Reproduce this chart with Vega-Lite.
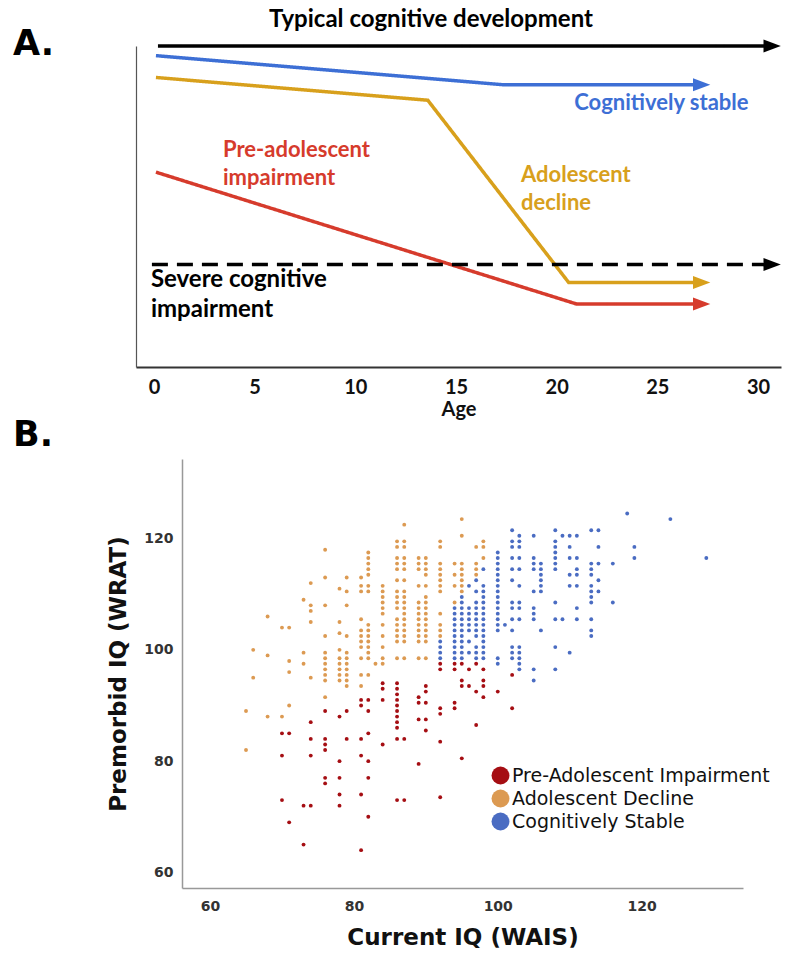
{
"$schema": "https://vega.github.io/schema/vega-lite/v6.json",
"background": "white",
"padding": {"left": 12, "top": 8, "right": 2, "bottom": 0},
"spacing": 6,
"config": {"view": {"stroke": null}},
"resolve": {"scale": {"color": "independent", "strokeDash": "independent", "x": "independent", "y": "independent"}, "legend": {"color": "independent"}},
"vconcat": [
{
"width": 645, "height": 321,
"data": {"values": [
{"series": "Typical", "age": 0.2, "level": 100},
{"series": "Typical", "age": 30.7, "level": 100},
{"series": "Stable", "age": 0.1, "level": 97.0},
{"series": "Stable", "age": 17.4, "level": 87.9},
{"series": "Stable", "age": 27.2, "level": 87.9},
{"series": "Decline", "age": 0.1, "level": 90.2},
{"series": "Decline", "age": 13.6, "level": 83.1},
{"series": "Decline", "age": 20.6, "level": 26.3},
{"series": "Decline", "age": 27.2, "level": 26.3},
{"series": "PreAdolescent", "age": 0.1, "level": 60.7},
{"series": "PreAdolescent", "age": 21.0, "level": 19.6},
{"series": "PreAdolescent", "age": 27.2, "level": 19.6},
{"series": "Severe", "age": -0.1, "level": 31.9},
{"series": "Severe", "age": 30.7, "level": 31.9}
]},
"layer": [
{"mark": {"type": "line", "strokeWidth": 3.5, "strokeCap": "butt"},
 "encoding": {
  "x": {"field": "age", "type": "quantitative", "scale": {"domain": [-0.89, 31.14], "nice": false, "zero": false},
        "axis": {"title": "Age", "titleFont": "Lato", "titleFontSize": 20, "titleFontWeight": "bold", "titleColor": "#111", "titlePadding": 2,
                 "labelFont": "Lato", "labelFontSize": 20, "labelFontWeight": "bold", "labelColor": "#111", "labelPadding": 10,
                 "ticks": false, "grid": false, "domainColor": "#333", "domainWidth": 2, "values": [0,5,10,15,20,25,30], "labelFlush": false, "labelOverlap": false}},
  "y": {"field": "level", "type": "quantitative", "scale": {"domain": [0, 100], "nice": false, "zero": false},
        "axis": {"title": null, "labels": false, "ticks": false, "grid": false, "domainColor": "#555", "domainWidth": 1.2}},
  "color": {"field": "series", "type": "nominal", "legend": null,
            "scale": {"domain": ["Typical", "Stable", "Decline", "PreAdolescent", "Severe"], "range": ["#000000", "#3d6fd5", "#d8a01c", "#d63b2c", "#000000"]}},
  "strokeDash": {"field": "series", "type": "nominal", "legend": null,
            "scale": {"domain": ["Typical", "Stable", "Decline", "PreAdolescent", "Severe"], "range": [[1,0],[1,0],[1,0],[1,0],[16,9]]}}
 }},
{"transform": [{"joinaggregate": [{"op": "max", "field": "age", "as": "tip"}], "groupby": ["series"]}, {"filter": "datum.age == datum.tip"}],
 "mark": {"type": "point", "shape": "M -1 -0.75 L 1 0 L -1 0.75 Z", "filled": true, "opacity": 1, "size": 300, "strokeWidth": 0},
 "encoding": {
  "x": {"field": "age", "type": "quantitative"},
  "y": {"field": "level", "type": "quantitative"},
  "color": {"field": "series", "type": "nominal", "legend": null}
 }},
{"data": {"values": [{}]},
 "mark": {"type": "text", "font": "Lato", "fontWeight": "bold", "fontSize": 24, "align": "center", "baseline": "alphabetic", "color": "#000000"},
 "encoding": {"x": {"datum": 13.76}, "y": {"datum": 105.9}, "text": {"value": "Typical cognitive development"}}},
{"data": {"values": [{}]},
 "mark": {"type": "text", "font": "Lato", "fontWeight": "bold", "fontSize": 22, "align": "center", "baseline": "alphabetic", "color": "#3d6fd5"},
 "encoding": {"x": {"datum": 25.2}, "y": {"datum": 80.0}, "text": {"value": "Cognitively stable"}}},
{"data": {"values": [{}]},
 "mark": {"type": "text", "font": "Lato", "fontWeight": "bold", "fontSize": 22, "align": "left", "baseline": "alphabetic", "lineHeight": 28, "color": "#d63b2c"},
 "encoding": {"x": {"datum": 3.43}, "y": {"datum": 65.4}, "text": {"value": ["Pre-adolescent", "impairment"]}}},
{"data": {"values": [{}]},
 "mark": {"type": "text", "font": "Lato", "fontWeight": "bold", "fontSize": 22, "align": "left", "baseline": "alphabetic", "lineHeight": 28, "color": "#d8a01c"},
 "encoding": {"x": {"datum": 18.23}, "y": {"datum": 57.5}, "text": {"value": ["Adolescent", "decline"]}}},
{"data": {"values": [{}]},
 "mark": {"type": "text", "font": "Lato", "fontWeight": "bold", "fontSize": 24, "align": "left", "baseline": "alphabetic", "lineHeight": 30, "color": "#000000"},
 "encoding": {"x": {"datum": -0.15}, "y": {"datum": 24.9}, "text": {"value": ["Severe cognitive", "impairment"]}}},
{"data": {"values": [{}]},
 "mark": {"type": "text", "font": "DejaVu Sans", "fontWeight": "bold", "fontSize": 35, "align": "left", "baseline": "alphabetic", "color": "#000000"},
 "encoding": {"x": {"datum": -7.0}, "y": {"datum": 97.2}, "text": {"value": "A."}}},
{"data": {"values": [{}]},
 "mark": {"type": "text", "font": "DejaVu Sans", "fontWeight": "bold", "fontSize": 35, "align": "left", "baseline": "alphabetic", "color": "#000000"},
 "encoding": {"x": {"datum": -7.0}, "y": {"datum": -24.6}, "text": {"value": "B."}}}
]
},
{
"width": 607, "height": 429,
"encoding": {
  "x": {"field": "wais", "type": "quantitative", "scale": {"domain": [56.1, 134.1], "range": [46, 607], "nice": false, "zero": false},
        "axis": {"title": "Current IQ (WAIS)", "titleFont": "DejaVu Sans", "titleFontSize": 23, "titleFontWeight": "bold", "titleColor": "#111", "titlePadding": 13,
                 "labelFont": "DejaVu Sans", "labelFontSize": 14, "labelFontWeight": "bold", "labelColor": "#333", "labelPadding": 11,
                 "ticks": false, "grid": false, "domainColor": "#999999", "domainWidth": 1.5, "values": [60, 80, 100, 120], "labelFlush": false}},
  "y": {"field": "wrat", "type": "quantitative", "scale": {"domain": [57.2, 134.3], "nice": false, "zero": false},
        "axis": {"offset": -46, "title": "Premorbid IQ (WRAT)", "titleFont": "DejaVu Sans", "titleFontSize": 23, "titleFontWeight": "bold", "titleColor": "#111", "titlePadding": 13,
                 "labelFont": "DejaVu Sans", "labelFontSize": 14, "labelFontWeight": "bold", "labelColor": "#333", "labelPadding": 9,
                 "ticks": false, "grid": false, "domainColor": "#999999", "domainWidth": 1.5, "values": [60, 80, 100, 120], "labelFlush": false}}
},
"resolve": {"scale": {"color": "shared"}},
"layer": [
{"data": {"values": [
{"wais":65,"wrat":89},{"wais":65,"wrat":82},
{"wais":66,"wrat":100},{"wais":66,"wrat":95},
{"wais":68,"wrat":106},{"wais":68,"wrat":99},{"wais":68,"wrat":88},
{"wais":70,"wrat":104},{"wais":70,"wrat":88},
{"wais":71,"wrat":104},{"wais":71,"wrat":98},{"wais":71,"wrat":96},{"wais":71,"wrat":90},
{"wais":73,"wrat":109},{"wais":73,"wrat":99.5},{"wais":73,"wrat":97.5},
{"wais":74,"wrat":112},{"wais":74,"wrat":108},{"wais":74,"wrat":107},{"wais":74,"wrat":105},{"wais":74,"wrat":95},
{"wais":76,"wrat":118},{"wais":76,"wrat":113},{"wais":76,"wrat":108},{"wais":76,"wrat":102.5},{"wais":76,"wrat":99.5},{"wais":76,"wrat":98.5},{"wais":76,"wrat":97.5},{"wais":76,"wrat":96.5},{"wais":76,"wrat":95.5},{"wais":76,"wrat":94.5},{"wais":76,"wrat":91.5},
{"wais":78,"wrat":111},{"wais":78,"wrat":105},{"wais":78,"wrat":103},{"wais":78,"wrat":100},{"wais":78,"wrat":98.5},{"wais":78,"wrat":97.5},{"wais":78,"wrat":96.5},{"wais":78,"wrat":95.5},{"wais":78,"wrat":94.5},
{"wais":79,"wrat":113},{"wais":79,"wrat":110.5},{"wais":79,"wrat":108},{"wais":79,"wrat":102.5},{"wais":79,"wrat":99.5},{"wais":79,"wrat":98.5},{"wais":79,"wrat":97.5},{"wais":79,"wrat":96.5},{"wais":79,"wrat":95.5},{"wais":79,"wrat":94.5},{"wais":79,"wrat":93.5},
{"wais":81,"wrat":113},{"wais":81,"wrat":111.5},{"wais":81,"wrat":110.5},{"wais":81,"wrat":105.5},{"wais":81,"wrat":103.5},{"wais":81,"wrat":102.5},{"wais":81,"wrat":101.5},{"wais":81,"wrat":100.5},{"wais":81,"wrat":98.5},{"wais":81,"wrat":95.5},{"wais":81,"wrat":93.5},
{"wais":82,"wrat":117.5},{"wais":82,"wrat":116.5},{"wais":82,"wrat":115.5},{"wais":82,"wrat":114.5},{"wais":82,"wrat":113.5},{"wais":82,"wrat":111.5},{"wais":82,"wrat":110.5},{"wais":82,"wrat":104.5},{"wais":82,"wrat":103.5},{"wais":82,"wrat":102.5},{"wais":82,"wrat":101.5},{"wais":82,"wrat":100.5},{"wais":82,"wrat":99.5},{"wais":82,"wrat":98.5},{"wais":82,"wrat":95.5},
{"wais":83,"wrat":97.5},
{"wais":84,"wrat":111.5},{"wais":84,"wrat":110.5},{"wais":84,"wrat":109.5},{"wais":84,"wrat":108.5},{"wais":84,"wrat":107.5},{"wais":84,"wrat":106.5},{"wais":84,"wrat":104.5},{"wais":84,"wrat":102.5},{"wais":84,"wrat":100.5},{"wais":84,"wrat":98.5},{"wais":84,"wrat":97.5},
{"wais":86,"wrat":119.5},{"wais":86,"wrat":118.5},{"wais":86,"wrat":116.5},{"wais":86,"wrat":115.5},{"wais":86,"wrat":114.5},{"wais":86,"wrat":112.5},{"wais":86,"wrat":110.5},{"wais":86,"wrat":109.5},{"wais":86,"wrat":108.5},{"wais":86,"wrat":107.5},{"wais":86,"wrat":105.5},{"wais":86,"wrat":104.5},{"wais":86,"wrat":103.5},{"wais":86,"wrat":102.5},{"wais":86,"wrat":101.5},{"wais":86,"wrat":98.5},
{"wais":87,"wrat":122.5},{"wais":87,"wrat":119.5},{"wais":87,"wrat":118.5},{"wais":87,"wrat":116.5},{"wais":87,"wrat":115.5},{"wais":87,"wrat":114.5},{"wais":87,"wrat":112.5},{"wais":87,"wrat":110.5},{"wais":87,"wrat":109.5},{"wais":87,"wrat":108.5},{"wais":87,"wrat":107.5},{"wais":87,"wrat":106.5},{"wais":87,"wrat":105.5},{"wais":87,"wrat":104.5},{"wais":87,"wrat":103.5},{"wais":87,"wrat":102.5},{"wais":87,"wrat":101.5},{"wais":87,"wrat":98.5},
{"wais":89,"wrat":116.5},{"wais":89,"wrat":115.5},{"wais":89,"wrat":114.5},{"wais":89,"wrat":111.5},{"wais":89,"wrat":108.5},{"wais":89,"wrat":107.5},{"wais":89,"wrat":106.5},{"wais":89,"wrat":105.5},{"wais":89,"wrat":104.5},{"wais":89,"wrat":103.5},{"wais":89,"wrat":102.5},{"wais":89,"wrat":101.5},{"wais":89,"wrat":98.5},
{"wais":90,"wrat":116.5},{"wais":90,"wrat":115.5},{"wais":90,"wrat":114.5},{"wais":90,"wrat":113.5},{"wais":90,"wrat":111.5},{"wais":90,"wrat":109.5},{"wais":90,"wrat":108.5},{"wais":90,"wrat":107.5},{"wais":90,"wrat":106.5},{"wais":90,"wrat":105.5},{"wais":90,"wrat":104.5},{"wais":90,"wrat":103.5},{"wais":90,"wrat":102.5},{"wais":90,"wrat":101.5},{"wais":90,"wrat":98.5},
{"wais":92,"wrat":119.5},{"wais":92,"wrat":118.5},{"wais":92,"wrat":115.5},{"wais":92,"wrat":114.5},{"wais":92,"wrat":113.5},{"wais":92,"wrat":112.5},{"wais":92,"wrat":111.5},{"wais":92,"wrat":110.5},{"wais":92,"wrat":106.5},{"wais":92,"wrat":104.5},{"wais":92,"wrat":103.5},{"wais":92,"wrat":102.5},
{"wais":94,"wrat":115.5},{"wais":94,"wrat":113.5},{"wais":94,"wrat":111.5},{"wais":94,"wrat":108.5},
{"wais":95,"wrat":123.5},{"wais":95,"wrat":120.5},{"wais":95,"wrat":115.5},{"wais":95,"wrat":114.5},{"wais":95,"wrat":113.5},{"wais":95,"wrat":112.5},{"wais":95,"wrat":111.5},{"wais":95,"wrat":110.5},
{"wais":97,"wrat":118.5},{"wais":97,"wrat":115.5},{"wais":97,"wrat":114.5},{"wais":97,"wrat":113.5},
{"wais":98,"wrat":119.5},{"wais":98,"wrat":118.5},{"wais":98,"wrat":116.5}
]},
 "mark": {"type": "circle", "size": 15, "opacity": 1},
 "encoding": {"color": {"datum": "Adolescent Decline", "type": "nominal",
   "scale": {"domain": ["Pre-Adolescent Impairment", "Adolescent Decline", "Cognitively Stable"], "range": ["#a50e13", "#dc9a52", "#4a6cc2"]},
   "legend": {"title": null, "orient": "none", "legendX": 355, "legendY": 307, "symbolType": "circle", "symbolSize": 320, "symbolStrokeWidth": 0, "symbolOpacity": 1,
              "labelFont": "DejaVu Sans", "labelFontSize": 19, "labelColor": "#111", "labelOffset": 2, "rowPadding": 3, "labelLimit": 400}}}},
{"data": {"values": [
{"wais":92,"wrat":101.5},{"wais":92,"wrat":100.5},{"wais":92,"wrat":99.5},{"wais":92,"wrat":98.5},
{"wais":94,"wrat":107.5},{"wais":94,"wrat":106.5},{"wais":94,"wrat":105.5},{"wais":94,"wrat":104.5},{"wais":94,"wrat":103.5},{"wais":94,"wrat":102.5},{"wais":94,"wrat":101.5},{"wais":94,"wrat":100.5},{"wais":94,"wrat":99.5},{"wais":94,"wrat":98.5},
{"wais":95,"wrat":109.5},{"wais":95,"wrat":108.5},{"wais":95,"wrat":107.5},{"wais":95,"wrat":106.5},{"wais":95,"wrat":105.5},{"wais":95,"wrat":104.5},{"wais":95,"wrat":103.5},{"wais":95,"wrat":102.5},{"wais":95,"wrat":101.5},{"wais":95,"wrat":100.5},{"wais":95,"wrat":99.5},{"wais":95,"wrat":98.5},
{"wais":96,"wrat":111.5},{"wais":96,"wrat":107.5},{"wais":96,"wrat":106.5},{"wais":96,"wrat":105.5},{"wais":96,"wrat":104.5},{"wais":96,"wrat":103.5},{"wais":96,"wrat":101.5},{"wais":96,"wrat":99.5},
{"wais":97,"wrat":112.5},{"wais":97,"wrat":110.5},{"wais":97,"wrat":108.5},{"wais":97,"wrat":107.5},{"wais":97,"wrat":106.5},{"wais":97,"wrat":105.5},{"wais":97,"wrat":104.5},{"wais":97,"wrat":103.5},{"wais":97,"wrat":102.5},{"wais":97,"wrat":100.5},{"wais":97,"wrat":99.5},{"wais":97,"wrat":98.5},
{"wais":98,"wrat":114.5},{"wais":98,"wrat":111.5},{"wais":98,"wrat":110.5},{"wais":98,"wrat":109.5},{"wais":98,"wrat":108.5},{"wais":98,"wrat":107.5},{"wais":98,"wrat":106.5},{"wais":98,"wrat":105.5},{"wais":98,"wrat":104.5},{"wais":98,"wrat":103.5},{"wais":98,"wrat":102.5},{"wais":98,"wrat":101.5},{"wais":98,"wrat":100.5},{"wais":98,"wrat":99.5},{"wais":98,"wrat":98.5},
{"wais":100,"wrat":117.5},{"wais":100,"wrat":116.5},{"wais":100,"wrat":115.5},{"wais":100,"wrat":114.5},{"wais":100,"wrat":113.5},{"wais":100,"wrat":112.5},{"wais":100,"wrat":111.5},{"wais":100,"wrat":110.5},{"wais":100,"wrat":109.5},{"wais":100,"wrat":108.5},{"wais":100,"wrat":107.5},{"wais":100,"wrat":106.5},{"wais":100,"wrat":105.5},{"wais":100,"wrat":104.5},{"wais":100,"wrat":103.5},{"wais":100,"wrat":98.5},{"wais":100,"wrat":97.5},
{"wais":101,"wrat":104.5},
{"wais":102,"wrat":121.5},{"wais":102,"wrat":119.5},{"wais":102,"wrat":118.5},{"wais":102,"wrat":116.5},{"wais":102,"wrat":114.5},{"wais":102,"wrat":112.5},{"wais":102,"wrat":108.5},{"wais":102,"wrat":107.5},{"wais":102,"wrat":105.5},{"wais":102,"wrat":103.5},{"wais":102,"wrat":100.5},{"wais":102,"wrat":99.5},{"wais":102,"wrat":98.5},
{"wais":103,"wrat":120.5},{"wais":103,"wrat":119.5},{"wais":103,"wrat":118.5},{"wais":103,"wrat":116.5},{"wais":103,"wrat":114.5},{"wais":103,"wrat":111.5},{"wais":103,"wrat":108.5},{"wais":103,"wrat":107.5},{"wais":103,"wrat":105.5},{"wais":103,"wrat":100.5},{"wais":103,"wrat":99.5},{"wais":103,"wrat":98.5},{"wais":103,"wrat":97.5},{"wais":103,"wrat":96.5},
{"wais":105,"wrat":120.5},{"wais":105,"wrat":116.5},{"wais":105,"wrat":115.5},{"wais":105,"wrat":114.5},{"wais":105,"wrat":110.5},{"wais":105,"wrat":107.5},{"wais":105,"wrat":106.5},{"wais":105,"wrat":105.5},{"wais":105,"wrat":96.5},{"wais":105,"wrat":94.5},
{"wais":106,"wrat":115.5},{"wais":106,"wrat":114.5},{"wais":106,"wrat":113.5},{"wais":106,"wrat":112.5},{"wais":106,"wrat":111.5},{"wais":106,"wrat":110.5},{"wais":106,"wrat":103.5},
{"wais":108,"wrat":121.5},{"wais":108,"wrat":119.5},{"wais":108,"wrat":118.5},{"wais":108,"wrat":117.5},{"wais":108,"wrat":116.5},{"wais":108,"wrat":115.5},{"wais":108,"wrat":114.5},{"wais":108,"wrat":108.5},{"wais":108,"wrat":105.5},{"wais":108,"wrat":100.5},{"wais":108,"wrat":96.5},
{"wais":109,"wrat":120.5},{"wais":109,"wrat":105.5},
{"wais":110,"wrat":120.5},{"wais":110,"wrat":118.5},{"wais":110,"wrat":116.5},{"wais":110,"wrat":113.5},{"wais":110,"wrat":111.5},{"wais":110,"wrat":99.5},
{"wais":111,"wrat":120.5},{"wais":111,"wrat":116.5},{"wais":111,"wrat":114.5},{"wais":111,"wrat":113.5},{"wais":111,"wrat":111.5},{"wais":111,"wrat":107.5},{"wais":111,"wrat":105.5},
{"wais":113,"wrat":121.5},{"wais":113,"wrat":115.5},{"wais":113,"wrat":114.5},{"wais":113,"wrat":113.5},{"wais":113,"wrat":111.5},{"wais":113,"wrat":110.5},{"wais":113,"wrat":109.5},{"wais":113,"wrat":108.5},{"wais":113,"wrat":105.5},{"wais":113,"wrat":103.5},{"wais":113,"wrat":102.5},
{"wais":114,"wrat":121.5},{"wais":114,"wrat":118.5},{"wais":114,"wrat":115.5},{"wais":114,"wrat":112.5},{"wais":114,"wrat":110.5},
{"wais":116,"wrat":115.5},{"wais":116,"wrat":108.5},
{"wais":118,"wrat":124.5},
{"wais":119,"wrat":118.5},{"wais":119,"wrat":116.5},
{"wais":124,"wrat":123.5},
{"wais":129,"wrat":116.5}
]},
 "mark": {"type": "circle", "size": 15, "opacity": 1},
 "encoding": {"color": {"datum": "Cognitively Stable", "type": "nominal"}}},
{"data": {"values": [
{"wais":70,"wrat":85},{"wais":70,"wrat":81},{"wais":70,"wrat":73},
{"wais":71,"wrat":85},{"wais":71,"wrat":69},
{"wais":73,"wrat":72},{"wais":73,"wrat":65},
{"wais":74,"wrat":87},{"wais":74,"wrat":84},{"wais":74,"wrat":81},{"wais":74,"wrat":72},
{"wais":76,"wrat":89},{"wais":76,"wrat":84},{"wais":76,"wrat":83},{"wais":76,"wrat":82},{"wais":76,"wrat":77},{"wais":76,"wrat":76},
{"wais":78,"wrat":88},{"wais":78,"wrat":80},{"wais":78,"wrat":77},{"wais":78,"wrat":74},{"wais":78,"wrat":72},
{"wais":79,"wrat":89},{"wais":79,"wrat":84},
{"wais":81,"wrat":91},{"wais":81,"wrat":90},{"wais":81,"wrat":84},{"wais":81,"wrat":81},{"wais":81,"wrat":74},{"wais":81,"wrat":64},
{"wais":82,"wrat":91},{"wais":82,"wrat":89},{"wais":82,"wrat":85},{"wais":82,"wrat":80},{"wais":82,"wrat":77},{"wais":82,"wrat":70},
{"wais":84,"wrat":94},{"wais":84,"wrat":93},{"wais":84,"wrat":91},{"wais":84,"wrat":83},
{"wais":86,"wrat":94},{"wais":86,"wrat":93},{"wais":86,"wrat":92},{"wais":86,"wrat":91},{"wais":86,"wrat":90},{"wais":86,"wrat":89},{"wais":86,"wrat":88},{"wais":86,"wrat":87},{"wais":86,"wrat":86},{"wais":86,"wrat":84},{"wais":86,"wrat":73},
{"wais":87,"wrat":84},{"wais":87,"wrat":73},
{"wais":89,"wrat":91.5},{"wais":89,"wrat":90.5},{"wais":89,"wrat":87.5},{"wais":89,"wrat":79.5},
{"wais":90,"wrat":93.5},{"wais":90,"wrat":92.5},{"wais":90,"wrat":90.5},{"wais":90,"wrat":87.5},{"wais":90,"wrat":85.5},
{"wais":92,"wrat":97.5},{"wais":92,"wrat":96.5},{"wais":92,"wrat":89.5},{"wais":92,"wrat":88.5},{"wais":92,"wrat":83.5},{"wais":92,"wrat":73.5},
{"wais":94,"wrat":97.5},{"wais":94,"wrat":96.5},{"wais":94,"wrat":90.5},{"wais":94,"wrat":89.5},
{"wais":95,"wrat":97.5},{"wais":95,"wrat":94.5},{"wais":95,"wrat":93.5},{"wais":95,"wrat":80.5},
{"wais":96,"wrat":96.5},{"wais":96,"wrat":93.5},
{"wais":97,"wrat":97.5},{"wais":97,"wrat":92.5},{"wais":97,"wrat":86.5},
{"wais":98,"wrat":96.5},{"wais":98,"wrat":94.5},{"wais":98,"wrat":93.5},{"wais":98,"wrat":91.5},
{"wais":100,"wrat":92.5},
{"wais":102,"wrat":95.5},{"wais":102,"wrat":89.5}
]},
 "mark": {"type": "circle", "size": 15, "opacity": 1},
 "encoding": {"color": {"datum": "Pre-Adolescent Impairment", "type": "nominal"}}}
]
}
]
}
